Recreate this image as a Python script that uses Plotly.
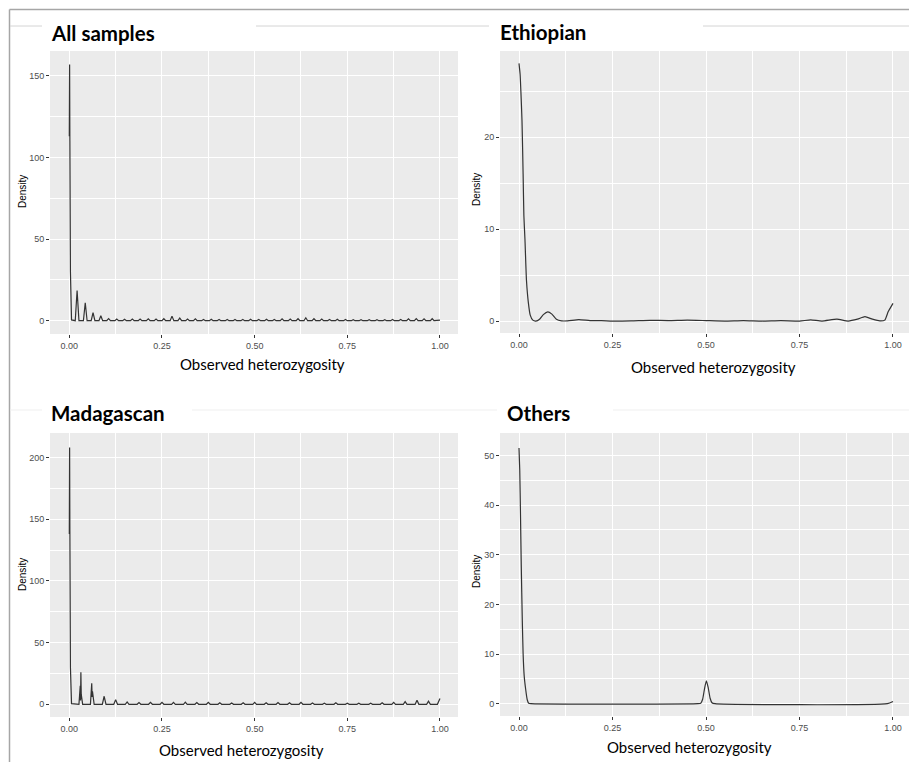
import plotly.graph_objects as go

W, H = 909, 762

# ---------------- data ----------------
# All samples: spike at 0, then a comb of narrow peaks
ALL_SPIKE_X = [0.0, 0.0008, 0.0015, 0.003, 0.006]
ALL_SPIKE_Y = [113, 157, 110, 30, 0.5]
ALL_PEAK_X = [0.021, 0.043, 0.064, 0.085, 0.106, 0.128, 0.149, 0.170, 0.191, 0.213,
              0.234, 0.255, 0.277, 0.298, 0.319, 0.340, 0.362, 0.383, 0.404, 0.426,
              0.447, 0.468, 0.489, 0.511, 0.532, 0.553, 0.574, 0.596, 0.617, 0.638,
              0.660, 0.681, 0.702, 0.723, 0.745, 0.766, 0.787, 0.809, 0.830, 0.851,
              0.872, 0.894, 0.915, 0.936, 0.957, 0.979]
ALL_PEAK_Y = [18.5, 11.0, 5.0, 3.0, 1.3, 1.0, 0.9, 1.0, 1.0, 1.1,
              1.0, 1.2, 2.8, 1.6, 1.0, 1.1, 0.8, 0.9, 0.8, 0.7,
              0.8, 0.7, 0.9, 0.8, 0.9, 0.8, 1.1, 1.0, 1.2, 1.8,
              1.2, 1.0, 0.8, 0.9, 0.7, 0.6, 0.6, 0.6, 0.6, 0.6,
              0.7, 0.8, 1.1, 1.3, 1.1, 1.2]
ALL_END_X = [1.0]
ALL_END_Y = [0.3]

# Ethiopian: smooth density
ETH_X = [0.0, 0.003, 0.005, 0.008, 0.011, 0.013, 0.016, 0.020, 0.025, 0.030,
         0.037, 0.045, 0.055, 0.065, 0.077, 0.088, 0.100, 0.114, 0.130, 0.160,
         0.190, 0.220, 0.250, 0.300, 0.350, 0.400, 0.450, 0.500, 0.550, 0.600,
         0.650, 0.700, 0.750, 0.780, 0.810, 0.850, 0.880, 0.905, 0.925, 0.945,
         0.965, 0.978, 0.987, 1.0]
ETH_Y = [28.0, 26.8, 25.0, 21.8, 16.0, 11.5, 8.8, 4.4, 2.0, 0.65,
         0.1, 0.0, 0.2, 0.7, 1.0, 0.75, 0.2, 0.02, 0.02, 0.15,
         0.05, 0.05, 0.0, 0.02, 0.08, 0.05, 0.1, 0.05, 0.0, 0.05,
         0.0, 0.05, 0.0, 0.12, 0.0, 0.2, 0.0, 0.2, 0.47, 0.2,
         0.02, 0.1, 1.0, 1.92]

# Madagascan: spike at 0, two split peaks, then a comb
MAD_SPIKE_X = [0.0, 0.0008, 0.0015, 0.003, 0.006, 0.026, 0.0295, 0.0303, 0.0312, 0.0322,
               0.036, 0.057, 0.0605, 0.0615, 0.0625, 0.067]
MAD_SPIKE_Y = [138, 208, 140, 30, 0.5, 0.0, 15, 3, 26, 8,
               0.0, 0.0, 17, 6, 10.5, 0.0]
MAD_PEAK_X = [0.094, 0.125, 0.156, 0.188, 0.219, 0.250, 0.281, 0.313, 0.344, 0.375,
              0.406, 0.438, 0.469, 0.500, 0.531, 0.563, 0.594, 0.625, 0.656, 0.688,
              0.719, 0.750, 0.781, 0.813, 0.844, 0.875, 0.906, 0.938, 0.969]
MAD_PEAK_Y = [6.5, 3.8, 1.9, 1.4, 1.5, 1.5, 1.6, 1.7, 1.4, 1.5,
              1.2, 1.1, 1.2, 1.6, 1.3, 1.4, 1.3, 1.5, 1.0, 0.8,
              1.2, 0.8, 0.8, 0.8, 1.3, 1.6, 2.2, 3.3, 2.5]
MAD_END_X = [0.993, 1.0]
MAD_END_Y = [0.0, 4.6]

# Others: smooth density
OTH_X = [0.0, 0.002, 0.004, 0.006, 0.0088, 0.011, 0.014, 0.018, 0.022, 0.026,
         0.032, 0.478, 0.486, 0.491, 0.496, 0.501, 0.506, 0.511, 0.516, 0.524,
         0.985, 1.0]
OTH_Y = [51.5, 47.0, 38.0, 28.0, 16.8, 10.1, 5.5, 2.8, 0.8, 0.1,
         0.0, 0.0, 0.1, 0.9, 3.0, 4.6, 3.2, 1.1, 0.2, 0.0,
         0.0, 0.45]

TITLES = ["All samples", "Ethiopian", "Madagascan", "Others"]
X_TITLE = "Observed heterozygosity"
Y_TITLE = "Density"
X_TICKS = [0, 0.25, 0.5, 0.75, 1.0]


def comb(sx, sy, px, py, ex, ey, hw=0.005):
    xs, ys = list(sx), list(sy)
    for p, h in zip(px, py):
        xs += [p - hw, p, p + hw]
        ys += [0.0, h, 0.0]
    xs += list(ex)
    ys += list(ey)
    return xs, ys


all_x, all_y = comb(ALL_SPIKE_X, ALL_SPIKE_Y, ALL_PEAK_X, ALL_PEAK_Y, ALL_END_X, ALL_END_Y)
mad_x, mad_y = comb(MAD_SPIKE_X, MAD_SPIKE_Y, MAD_PEAK_X, MAD_PEAK_Y, MAD_END_X, MAD_END_Y)

LINE = dict(color="#333333", width=1.2)

fig = go.Figure()
fig.add_trace(go.Scatter(x=all_x, y=all_y, mode="lines", line=LINE, xaxis="x", yaxis="y"))
fig.add_trace(go.Scatter(x=ETH_X, y=ETH_Y, mode="lines", line=dict(LINE, shape="spline", smoothing=0.5),
                         xaxis="x2", yaxis="y2"))
fig.add_trace(go.Scatter(x=mad_x, y=mad_y, mode="lines", line=LINE, xaxis="x3", yaxis="y3"))
fig.add_trace(go.Scatter(x=OTH_X, y=OTH_Y, mode="lines", line=dict(LINE, shape="spline", smoothing=0.5),
                         xaxis="x4", yaxis="y4"))


def px(x):
    return x / W


def py(y):
    return 1 - y / H


TICKFONT = dict(family="Liberation Sans, Arial", size=9, color="#4D4D4D")

# panel geometry in pixels: (left, right, top, bottom)
panels = [
    (50, 458, 51, 334),
    (500, 909, 51, 333),
    (50, 458, 433, 717),
    (500, 909, 433, 716),
]
xranges = [[-0.0521, 1.0486], [-0.0508, 1.0428], [-0.0521, 1.0486], [-0.0508, 1.0428]]
yranges = [[-8.15, 165.3], [-1.30, 29.35], [-10.3, 219.8], [-2.48, 54.5]]
ydt = [50, 10, 50, 10]

layout = dict(
    width=W, height=H, margin=dict(l=0, r=0, t=0, b=0),
    paper_bgcolor="white", plot_bgcolor="#EBEBEB", showlegend=False,
)
for i, (l, r, t, b) in enumerate(panels):
    s = "" if i == 0 else str(i + 1)
    layout["xaxis" + s] = dict(
        domain=[px(l), px(r)], range=xranges[i], anchor="y" + s,
        tickvals=X_TICKS, ticktext=["%.2f" % v for v in X_TICKS],
        showgrid=True, gridcolor="white", gridwidth=1.1, zeroline=False,
        ticks="outside", ticklen=3, tickcolor="#333333", tickwidth=1,
        tickfont=TICKFONT, showline=False,
        minor=dict(tickvals=[0.125, 0.375, 0.625, 0.875], showgrid=True, gridcolor="white",
                   gridwidth=0.5, ticks=""),
    )
    layout["yaxis" + s] = dict(
        domain=[py(b), py(t)], range=yranges[i], anchor="x" + s,
        tick0=0, dtick=ydt[i],
        showgrid=True, gridcolor="white", gridwidth=1.1, zeroline=False,
        ticks="outside", ticklen=3, tickcolor="#333333", tickwidth=1,
        tickfont=TICKFONT, showline=False,
        minor=dict(tick0=ydt[i] / 2, dtick=ydt[i], showgrid=True, gridcolor="white",
                   gridwidth=0.5, ticks=""),
    )

annotations = []
title_pos = [(49, 33), (498, 32), (49, 413), (505, 413)]
for (x, y), t in zip(title_pos, TITLES):
    annotations.append(dict(x=px(x), y=py(y), xref="paper", yref="paper", text="<b>%s</b>" % t,
                            showarrow=False, xanchor="left", yanchor="middle",
                            font=dict(family="Lato, Open Sans", size=20.5, color="black")))
xt_pos = [(262, 364), (713, 367), (242, 750), (689, 747)]
for (x, y) in xt_pos:
    annotations.append(dict(x=px(x), y=py(y), xref="paper", yref="paper", text=X_TITLE,
                            showarrow=False, xanchor="center", yanchor="middle",
                            font=dict(family="Lato, Open Sans", size=15, color="black")))
yt_pos = [(22, 192), (476, 190), (22, 575), (476, 572)]
for (x, y) in yt_pos:
    annotations.append(dict(x=px(x), y=py(y), xref="paper", yref="paper", text=Y_TITLE,
                            showarrow=False, textangle=-90, xanchor="center", yanchor="middle",
                            font=dict(family="Liberation Sans, Arial", size=10, color="black")))
layout["annotations"] = annotations

shapes = []
# outer frame
shapes.append(dict(type="line", xref="paper", yref="paper", x0=px(9.5), x1=1, y0=py(9.5), y1=py(9.5),
                   line=dict(color="#A6A6A6", width=1.5)))
shapes.append(dict(type="line", xref="paper", yref="paper", x0=px(9.5), x1=px(9.5), y0=py(9.5), y1=0,
                   line=dict(color="#A6A6A6", width=1.5)))
# light title-box edges
for a, b_ in [(10, 42), (256, 489), (703, 909)]:
    shapes.append(dict(type="line", xref="paper", yref="paper", x0=px(a), x1=px(b_), y0=py(26), y1=py(26),
                       line=dict(color="#D4D4D4", width=1)))
for a, b_ in [(10, 42), (192, 497), (613, 909)]:
    shapes.append(dict(type="line", xref="paper", yref="paper", x0=px(a), x1=px(b_), y0=py(410), y1=py(410),
                       line=dict(color="#EFEFEF", width=1)))
layout["shapes"] = shapes

fig.update_layout(**layout)
fig.write_html("out.html")
